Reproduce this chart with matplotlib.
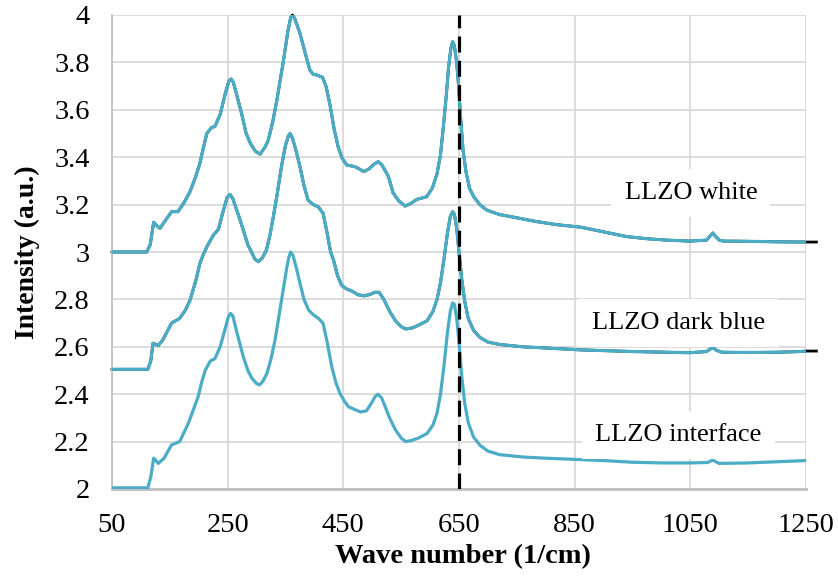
import matplotlib
matplotlib.use('Agg')
import matplotlib.pyplot as plt

plt.rcParams['font.family'] = ['Liberation Serif', 'DejaVu Serif']

# LLZO white (offset +1.0)
white_x = [50, 110, 116, 122, 128, 133, 140, 153, 164, 175, 185, 195, 202, 208, 214, 222, 228, 237,
           246, 252, 256, 260, 267, 274, 282, 289, 298, 306, 314, 320, 328, 335, 346, 354, 359, 362,
           366, 375, 384, 392, 398, 404, 414, 420, 427, 434, 441, 448, 456, 470, 478, 485, 494, 503,
           510, 516, 522, 528, 536, 546, 557, 567, 577, 594, 604, 612, 618, 623, 628, 632, 636, 639,
           642, 646, 649, 653, 657, 662, 668, 675, 686, 698, 720, 740, 780, 820, 860, 900, 940, 975,
           1010, 1049, 1078, 1085, 1089, 1094, 1100, 1107, 1150, 1200, 1250]
white_y = [3.00, 3.00, 3.03, 3.125, 3.11, 3.10, 3.125, 3.17, 3.17, 3.21, 3.255, 3.32, 3.375, 3.44,
           3.50, 3.525, 3.53, 3.58, 3.67, 3.72, 3.73, 3.715, 3.65, 3.585, 3.50, 3.46, 3.425, 3.413,
           3.44, 3.47, 3.55, 3.64, 3.80, 3.93, 3.99, 4.00, 3.985, 3.923, 3.84, 3.768, 3.75, 3.747,
           3.737, 3.70, 3.62, 3.52, 3.444, 3.395, 3.367, 3.36, 3.35, 3.339, 3.35, 3.37, 3.381, 3.37,
           3.345, 3.318, 3.25, 3.215, 3.194, 3.205, 3.222, 3.233, 3.27, 3.33, 3.41, 3.53, 3.66, 3.78,
           3.86, 3.887, 3.87, 3.80, 3.71, 3.56, 3.43, 3.34, 3.27, 3.235, 3.20, 3.177, 3.158, 3.149,
           3.13, 3.115, 3.105, 3.085, 3.065, 3.056, 3.05, 3.046, 3.05, 3.07, 3.08, 3.065, 3.05, 3.046,
           3.045, 3.043, 3.042]

# LLZO dark blue (offset +0.5)
blue_x = [50, 112, 117, 121, 126, 130, 138, 153, 167, 177, 185, 195, 202, 208, 214, 225, 234, 242,
          249, 254, 259, 268, 277, 285, 291, 297, 303, 310, 317, 323, 329, 336, 343, 350, 355, 358,
          362, 368, 375, 382, 389, 398, 407, 415, 422, 428, 433, 440, 447, 455, 465, 475, 485, 495,
          505, 512, 520, 530, 540, 550, 558, 570, 583, 595, 605, 612, 618, 624, 630, 635, 639, 642,
          646, 650, 655, 660, 666, 675, 686, 700, 720, 760, 800, 860, 950, 1049, 1078, 1084, 1089,
          1095, 1105, 1150, 1200, 1240, 1250]
blue_y = [2.505, 2.505, 2.54, 2.615, 2.61, 2.605, 2.63, 2.70, 2.72, 2.755, 2.797, 2.88, 2.952, 2.99,
          3.022, 3.07, 3.096, 3.17, 3.23, 3.243, 3.225, 3.16, 3.093, 3.03, 3.001, 2.97, 2.959, 2.975,
          3.008, 3.07, 3.149, 3.25, 3.36, 3.45, 3.49, 3.50, 3.48, 3.43, 3.36, 3.28, 3.219, 3.20, 3.19,
          3.163, 3.08, 3.00, 2.966, 2.90, 2.86, 2.845, 2.835, 2.82, 2.815, 2.82, 2.83, 2.83, 2.80,
          2.75, 2.71, 2.685, 2.675, 2.68, 2.695, 2.71, 2.75, 2.80, 2.87, 2.97, 3.08, 3.15, 3.17, 3.16,
          3.10, 3.00, 2.88, 2.79, 2.72, 2.67, 2.64, 2.62, 2.61, 2.60, 2.595, 2.587, 2.58, 2.575, 2.58,
          2.59, 2.596, 2.585, 2.577, 2.576, 2.577, 2.58, 2.582]

# LLZO interface
inter_x = [50, 112, 117, 122, 126, 130, 140, 153, 167, 182, 190, 199, 205, 211, 220, 228, 237, 245,
           251, 255, 259, 266, 277, 285, 292, 300, 305, 311, 318, 325, 332, 340, 346, 352, 356, 359,
           363, 369, 375, 382, 390, 398, 407, 415, 422, 430, 437, 444, 452, 459, 470, 480, 490, 498,
           505, 510, 516, 522, 530, 540, 550, 558, 568, 580, 595, 605, 612, 618, 624, 630, 635, 639,
           642, 646, 650, 655, 660, 666, 675, 686, 700, 720, 760, 800, 850, 900, 950, 1000, 1050,
           1080, 1085, 1089, 1094, 1100, 1150, 1200, 1250]
inter_y = [2.005, 2.005, 2.05, 2.13, 2.12, 2.108, 2.13, 2.186, 2.20, 2.277, 2.33, 2.39, 2.45, 2.50,
           2.54, 2.55, 2.60, 2.67, 2.725, 2.741, 2.73, 2.66, 2.558, 2.50, 2.467, 2.445, 2.439, 2.455,
           2.488, 2.55, 2.629, 2.75, 2.84, 2.93, 2.98, 3.00, 2.985, 2.93, 2.868, 2.80, 2.755, 2.735,
           2.72, 2.699, 2.62, 2.516, 2.45, 2.404, 2.37, 2.347, 2.335, 2.325, 2.33, 2.36, 2.39, 2.40,
           2.385, 2.35, 2.30, 2.25, 2.215, 2.20, 2.205, 2.215, 2.235, 2.27, 2.32, 2.40, 2.52, 2.66,
           2.75, 2.785, 2.78, 2.72, 2.62, 2.47, 2.36, 2.28, 2.22, 2.185, 2.16, 2.145, 2.135, 2.13,
           2.125, 2.12, 2.113, 2.11, 2.11, 2.112, 2.118, 2.122, 2.115, 2.108, 2.11, 2.115, 2.12]

# raw (black) data runs a bit past the axis end for white and dark blue
raw_end_x = 1268

labels = ['LLZO white', 'LLZO dark blue', 'LLZO interface']
label_pos = [(1051, 3.25), (1029, 2.70), (1029, 2.228)]
marker_line = 650

x_ticks = [50, 250, 450, 650, 850, 1050, 1250]
y_ticks = [2, 2.2, 2.4, 2.6, 2.8, 3, 3.2, 3.4, 3.6, 3.8, 4]
y_tick_labels = ['2', '2.2', '2.4', '2.6', '2.8', '3', '3.2', '3.4', '3.6', '3.8', '4']

teal = '#4BACC6'

fig = plt.figure(figsize=(8.38, 5.82), dpi=100)
ax = fig.add_axes([112 / 838, 1 - 489 / 582, 694 / 838, 474 / 582])

# black raw traces underneath, teal on top
ax.plot(white_x + [raw_end_x], white_y + [white_y[-1]], color='black', linewidth=2.0, clip_on=False, zorder=2)
ax.plot(blue_x + [raw_end_x], blue_y + [blue_y[-1]], color='black', linewidth=2.0, clip_on=False, zorder=2)
for xs, ys in [(white_x, white_y), (blue_x, blue_y), (inter_x, inter_y)]:
    ax.plot(xs, ys, color=teal, linewidth=2.3, zorder=3)

ax.axvline(marker_line, color='black', linewidth=2.3, linestyle=(0, (5, 2.6)), zorder=4)

for txt, (tx, ty) in zip(labels, label_pos):
    ax.text(tx, ty, txt, fontsize=19, ha='center', va='center', zorder=5,
            bbox=dict(facecolor='white', edgecolor='none', boxstyle='square,pad=0.5'))

ax.set_xlim(50, 1250)
ax.set_ylim(2, 4)
ax.set_xticks(x_ticks)
ax.set_yticks(y_ticks)
ax.set_yticklabels(y_tick_labels)
ax.tick_params(axis='both', length=0, labelsize=20.5)
ax.tick_params(axis='x', pad=17)
ax.tick_params(axis='y', pad=16)
ax.grid(True, color='#D9D9D9', linewidth=1.3, zorder=0)
ax.set_axisbelow(True)
for side in ['top', 'right']:
    ax.spines[side].set_visible(False)
ax.spines['left'].set_color('#BFBFBF')
ax.spines['left'].set_linewidth(1.3)
ax.spines['bottom'].set_color('#BFBFBF')
ax.spines['bottom'].set_linewidth(2)

fig.text(463 / 838, 1 - 557 / 582, 'Wave number (1/cm)', fontsize=20.5, fontweight='bold', ha='center', va='center')
fig.text(27 / 838, 1 - 252 / 582, 'Intensity (a.u.)', fontsize=20, fontweight='bold', ha='center', va='center', rotation=90)

fig.savefig('out.png', dpi=100)
